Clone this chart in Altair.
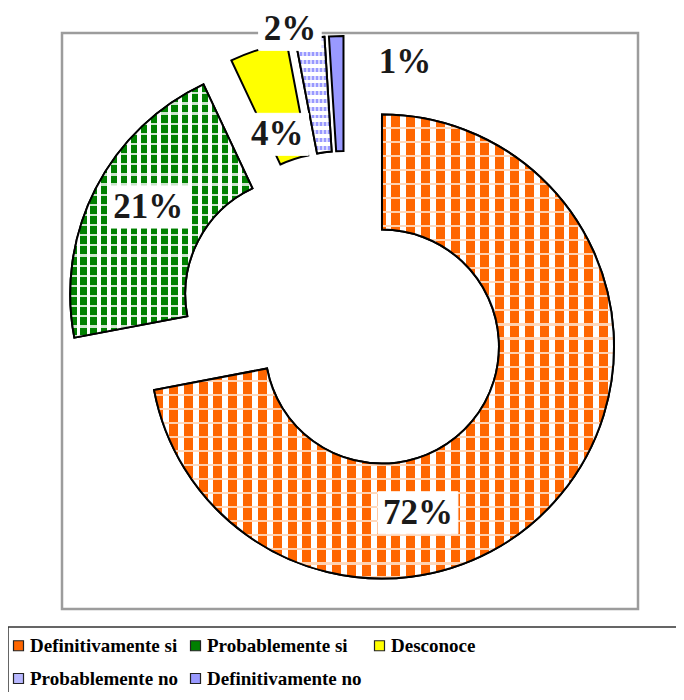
import math
import altair as alt
import pandas as pd

# ---------------- data ----------------
categories = ["Definitivamente si", "Probablemente si", "Desconoce",
              "Probablemente no", "Definitivamente no"]
values = [72, 21, 4, 2, 1]
label_texts = ["72%", "21%", "4%", "2%", "1%"]
legend_colors = ["#FF6600", "#008000", "#FFFF00", "#B8B8FF", "#9999FF"]

# ---------------- layout / style ----------------
W = H = 576
CX, CY = 283, 283          # pie centre inside the frame (view coords)
EXPLODE = 48               # explode distance of every slice
R_OUT, R_IN = 232, 117
FS = 35                    # data label font size
SERIF = "Liberation Serif, Times New Roman, serif"

# label placement: angle (deg, clockwise from top) and radius from the slice centre
label_layout = {
    "Definitivamente si": (167.8, 170),
    "Probablemente si": (299.5, 177),
    "Desconoce": (338.7, 146),
    "Probablemente no": (348.4, 244),
    "Definitivamente no": (16.6, 215),
}

df = pd.DataFrame({"cat": categories, "val": values, "label": label_texts,
                   "idx": list(range(len(categories)))})
df["la"] = [label_layout[c][0] for c in categories]
df["lr"] = [label_layout[c][1] for c in categories]


def stripes(c1, c2, n, frac, along_y=False):
    stops = []
    for i in range(n):
        a = i / n
        b = (i + frac) / n
        e = (i + 1) / n
        stops += [{"offset": round(a, 5), "color": c1},
                  {"offset": round(b, 5), "color": c1},
                  {"offset": round(b, 5), "color": c2},
                  {"offset": round(e, 5), "color": c2}]
    return {"gradient": "linear", "stops": stops,
            "x1": 0, "y1": 0,
            "x2": 0 if along_y else 1, "y2": 1 if along_y else 0}


base = (
    alt.Chart(df)
    .transform_joinaggregate(total="sum(val)")
    .transform_window(cum="sum(val)", sort=[alt.SortField("idx")], frame=[None, 0])
    .transform_calculate(f0="(datum.cum - datum.val) / datum.total")
    .transform_calculate(f1="datum.cum / datum.total")
    .transform_calculate(mid="2 * PI * (datum.cum - datum.val / 2) / datum.total")
    .transform_calculate(cx=f"{CX} + {EXPLODE} * sin(datum.mid)")
    .transform_calculate(cy=f"{CY} - {EXPLODE} * cos(datum.mid)")
)

arc_enc = dict(
    theta=alt.Theta("f0:Q", scale=alt.Scale(domain=[0, 1], range=[0, 2 * math.pi])),
    theta2=alt.Theta2("f1:Q"),
    x=alt.X("cx:Q", scale=None, axis=None),
    y=alt.Y("cy:Q", scale=None, axis=None),
)

legend = alt.Legend(
    title=None, orient="none", legendX=-53, legendY=603,
    direction="horizontal", columns=3,
    symbolType="square", symbolSize=100, symbolStrokeColor="#222222",
    symbolStrokeWidth=1.2, symbolOpacity=1,
    labelFont=SERIF, labelFontWeight="bold", labelFontSize=19,
    labelColor="black", labelLimit=400, labelOffset=2,
    columnPadding=8, rowPadding=13, padding=0,
)

arcs = base.mark_arc(radius=R_OUT, radius2=R_IN, stroke="black",
                     strokeWidth=2, opacity=1).encode(
    color=alt.Color("cat:N", scale=alt.Scale(domain=categories, range=legend_colors),
                    legend=legend),
    **arc_enc,
)


def pattern_layers(cat, g1, g2):
    sub = base.transform_filter(alt.datum.cat == cat)
    l1 = sub.mark_arc(radius=R_OUT, radius2=R_IN, fill=g1, strokeWidth=0).encode(**arc_enc)
    l2 = sub.mark_arc(radius=R_OUT, radius2=R_IN, fill=g2, stroke="black",
                      strokeWidth=2).encode(**arc_enc)
    return [l1, l2]


layers = [arcs]
layers += pattern_layers(
    "Definitivamente si",
    stripes("#FF6600", "#FFFFFF", 31, 0.6),
    stripes("rgba(255,255,255,0)", "rgba(255,215,185,0.95)", 33, 0.85, along_y=True),
)
layers += pattern_layers(
    "Probablemente si",
    stripes("#008000", "#FFFFFF", 18, 0.62),
    stripes("rgba(255,255,255,0)", "rgba(255,255,255,0.8)", 25, 0.78, along_y=True),
)
layers += pattern_layers(
    "Probablemente no",
    stripes("#9999FF", "#FFFFFF", 15, 0.5, along_y=True),
    stripes("rgba(255,255,255,0)", "rgba(255,255,255,0.6)", 9, 0.5),
)

labels = (
    base.transform_calculate(lx="datum.cx + datum.lr * sin(datum.la * PI / 180)")
    .transform_calculate(ly="datum.cy - datum.lr * cos(datum.la * PI / 180)")
    .transform_calculate(bw=f"{FS} * (0.5 * (length(datum.label) - 1) + 1) + 10")
    .transform_calculate(bx0="datum.lx - datum.bw / 2", bx1="datum.lx + datum.bw / 2",
                         by0="datum.ly - 21", by1="datum.ly + 21")
)
label_box = labels.mark_rect(fill="white", stroke="white").encode(
    x=alt.X("bx0:Q", scale=None, axis=None), x2="bx1:Q",
    y=alt.Y("by0:Q", scale=None, axis=None), y2="by1:Q",
)
label_text = labels.mark_text(font=SERIF, fontWeight="bold", fontSize=FS,
                              align="center", baseline="middle",
                              color="#1a1a1a").encode(
    x=alt.X("lx:Q", scale=None, axis=None),
    y=alt.Y("ly:Q", scale=None, axis=None),
    text="label:N",
)

legend_box = alt.Chart(pd.DataFrame({"a": [0]})).mark_rect(
    fillOpacity=0, stroke="#333333", strokeWidth=1.5
).encode(x=alt.value(-54), x2=alt.value(760), y=alt.value(594), y2=alt.value(760))

chart = (
    alt.layer(*layers, label_box, label_text, legend_box)
    .properties(width=W, height=H,
                autosize=alt.AutoSizeParams(type="none"),
                padding={"left": 54, "top": 25, "right": 38, "bottom": 83})
    .configure_view(stroke="#9c9c9c", strokeWidth=2.5)
)

chart.save("out.html", embed_options={"renderer": "svg", "actions": False})
